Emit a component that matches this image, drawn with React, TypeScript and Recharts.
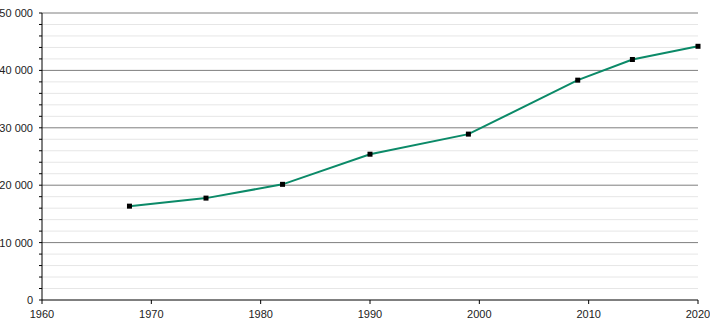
import { LineChart, Line, XAxis, YAxis, ReferenceLine } from 'recharts'

const years = [1968, 1975, 1982, 1990, 1999, 2009, 2014, 2020]
const population = [16350, 17750, 20150, 25400, 28900, 38300, 41900, 44200]
const xTicks = [1960, 1970, 1980, 1990, 2000, 2010, 2020]
const yTicks = [0, 2000, 4000, 6000, 8000, 10000, 12000, 14000, 16000, 18000, 20000, 22000, 24000, 26000, 28000, 30000, 32000, 34000, 36000, 38000, 40000, 42000, 44000, 46000, 48000, 50000]
const majorLines = [10000, 20000, 30000, 40000, 50000]

const data = years.map((y, i) => ({ year: y, value: population[i] }))

const FONT = '"Liberation Sans", Arial, sans-serif'

const fmt = (v: number) => {
  if (v === 0) return '0'
  const s = String(v)
  return s.slice(0, s.length - 3) + ' ' + s.slice(-3)
}

const YTick = (props: any) => {
  const { x, y, payload } = props
  if (payload.value % 10000 !== 0) return <g />
  return (
    <text x={x} y={y} dy={4} textAnchor="end" fill="#222" fontSize={11} fontFamily={FONT}>
      {fmt(payload.value)}
    </text>
  )
}

const SquareDot = (props: any) => {
  const { cx, cy } = props
  if (cx == null || cy == null) return <g />
  return <rect x={cx - 2.5} y={cy - 2.5} width={5} height={5} fill="#000" />
}

export default function App() {
  return (
    <div style={{ position: 'absolute', left: 0, top: 0, background: '#fff' }}>
      <LineChart width={710} height={320} data={data} margin={{ top: 13, right: 12, bottom: 0, left: 0 }}>
        {yTicks.filter(v => v % 10000 !== 0).map(v => (
          <ReferenceLine key={'m' + v} y={v} stroke="#e6e6e6" strokeWidth={1} />
        ))}
        {majorLines.map(v => (
          <ReferenceLine key={'M' + v} y={v} stroke="#7f7f7f" strokeWidth={1} />
        ))}
        <XAxis
          dataKey="year"
          type="number"
          domain={[1960, 2020]}
          ticks={xTicks}
          interval={0}
          tickSize={4}
          tickMargin={6}
          stroke="#000"
          tick={{ fill: '#222', fontSize: 11, fontFamily: FONT }}
          height={20}
        />
        <YAxis
          type="number"
          domain={[0, 50000]}
          ticks={yTicks}
          interval={0}
          tickSize={3}
          tickMargin={6}
          stroke="#000"
          width={42}
          tick={<YTick />}
        />
        <Line
          dataKey="value"
          stroke="#0b8a68"
          strokeWidth={2}
          dot={<SquareDot />}
          activeDot={false}
          isAnimationActive={false}
        />
      </LineChart>
    </div>
  )
}
